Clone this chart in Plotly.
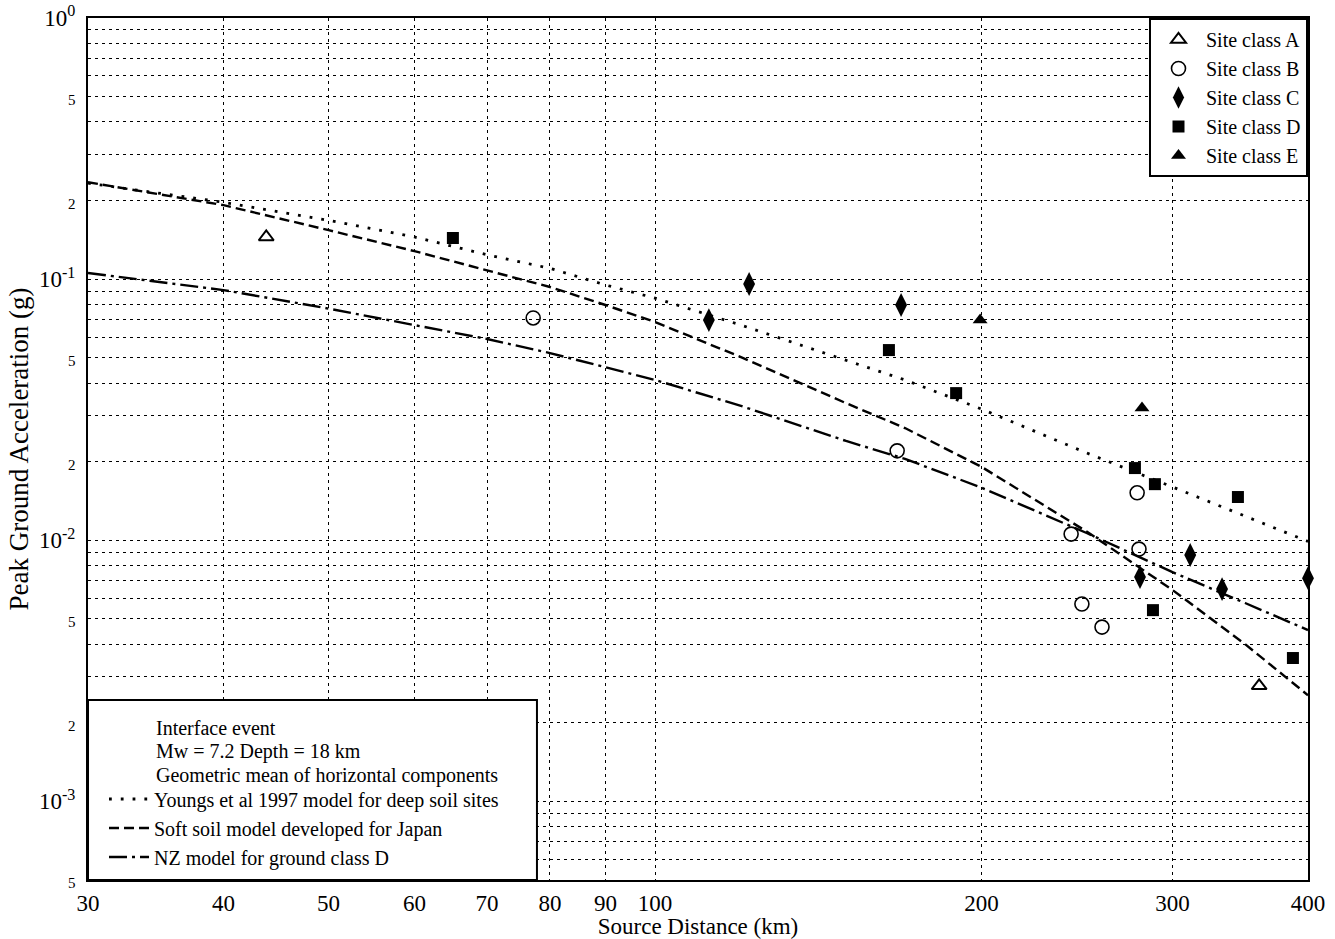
import plotly.graph_objects as go

# ---- data ----
model_distance = [30, 40, 50, 60, 70, 80, 90, 100, 120, 150, 170, 200, 250, 300, 350, 400]
youngs_1997 = [0.233, 0.197, 0.168, 0.145, 0.124, 0.110, 0.095, 0.0846, 0.0667, 0.049, 0.0411,
               0.0318, 0.0216, 0.016, 0.0124, 0.0099]
japan_soft_soil = [0.235, 0.192, 0.154, 0.128, 0.108, 0.0933, 0.0796, 0.0685, 0.0503, 0.0335,
                   0.0269, 0.0191, 0.0108, 0.00645, 0.0040, 0.00255]
nz_class_d = [0.1055, 0.0908, 0.0771, 0.0668, 0.059, 0.0521, 0.0461, 0.0411, 0.0327, 0.024,
              0.0205, 0.0159, 0.01066, 0.00755, 0.00575, 0.00453]

site_a_dist = [43.8, 360.6]
site_a_pga = [0.145, 0.00277]
site_b_dist = [77.2, 167.2, 278.3, 241.9, 279.4, 247.5, 258.3]
site_b_pga = [0.071, 0.022, 0.0152, 0.01056, 0.00925, 0.0057, 0.00465]
site_c_dist = [112.1, 122.1, 168.6, 311.5, 280.0, 333.3, 400.0]
site_c_pga = [0.0697, 0.0958, 0.0796, 0.00878, 0.00723, 0.0065, 0.00716]
site_d_dist = [65.1, 164.3, 189.5, 277.0, 289.0, 344.7, 287.8, 387.4]
site_d_pga = [0.1437, 0.0535, 0.0366, 0.0189, 0.0164, 0.01464, 0.0054, 0.00354]
site_e_dist = [199.4, 281.2]
site_e_pga = [0.0697, 0.0321]

x_tickvals = [30, 40, 50, 60, 70, 80, 90, 100, 200, 300, 400]
x_ticktext = ["30", "40", "50", "60", "70", "80", "90", "100", "200", "300", "400"]

y_tickvals = [1.0, 0.5, 0.2, 0.1, 0.05, 0.02, 0.01, 0.005, 0.002, 0.001, 0.0005]
y_ticktext = ["10<sup>0</sup>", "5", "2", "10<sup>-1</sup>", "5", "2", "10<sup>-2</sup>",
              "5", "2", "10<sup>-3</sup>", "5"]
y_grid_multipliers = [1, 2, 3, 4, 5, 6, 7, 8, 9]
y_grid_decades = [1e-4, 1e-3, 1e-2, 1e-1]

header_lines = ["Interface event", "Mw = 7.2 Depth = 18 km",
                "Geometric mean of horizontal components"]

SMALL = '<span style="font-size:15px">%s</span>'
y_ticktext = [t if t.startswith("10") else SMALL % t for t in y_ticktext]
y_minor_vals = [m * d for d in y_grid_decades for m in y_grid_multipliers
                if 5e-4 <= m * d <= 1.0]

FONT = "Liberation Serif, Times New Roman, serif"
GRID = dict(showgrid=True, gridcolor="black", gridwidth=1, griddash="3px,4px")

fig = go.Figure()

# model curves (legend2)
fig.add_trace(go.Scatter(x=model_distance, y=youngs_1997, mode="lines",
                         name="Youngs et al 1997 model for deep soil sites",
                         line=dict(color="black", width=2.8, dash="2.8px,9px"),
                         legend="legend2"))
fig.add_trace(go.Scatter(x=model_distance, y=japan_soft_soil, mode="lines",
                         name="Soft soil model developed for Japan",
                         line=dict(color="black", width=2.4, dash="10px,5px"),
                         legend="legend2"))
fig.add_trace(go.Scatter(x=model_distance, y=nz_class_d, mode="lines",
                         name="NZ model for ground class D",
                         line=dict(color="black", width=2.4, dash="18px,5px,3px,5px"),
                         legend="legend2"))

# site class data points (legend)
fig.add_trace(go.Scatter(x=site_a_dist, y=site_a_pga, mode="markers", name="Site class A",
                         marker=dict(symbol="triangle-up-open", size=13, color="black",
                                     line=dict(width=2, color="black")), cliponaxis=False))
fig.add_trace(go.Scatter(x=site_b_dist, y=site_b_pga, mode="markers", name="Site class B",
                         marker=dict(symbol="circle-open", size=14, color="black",
                                     line=dict(width=1.6, color="black")), cliponaxis=False))
fig.add_trace(go.Scatter(x=site_c_dist, y=site_c_pga, mode="markers", name="Site class C",
                         marker=dict(symbol="diamond-tall", size=17, color="black"),
                         cliponaxis=False))
fig.add_trace(go.Scatter(x=site_d_dist, y=site_d_pga, mode="markers", name="Site class D",
                         marker=dict(symbol="square", size=12, color="black"), cliponaxis=False))
fig.add_trace(go.Scatter(x=site_e_dist, y=site_e_pga, mode="markers", name="Site class E",
                         marker=dict(symbol="triangle-up", size=13, color="black"),
                         cliponaxis=False))

# box of the lower-left legend
fig.add_shape(type="rect", xref="paper", yref="paper", x0=0, x1=0.368, y0=0, y1=0.2088,
              fillcolor="white", line=dict(color="black", width=2), layer="above")

for i, txt in enumerate(header_lines):
    fig.add_annotation(text=txt, xref="paper", yref="paper", x=0.0545,
                       y=0.1763 - i * 0.0278, xanchor="left", yanchor="middle",
                       showarrow=False, font=dict(family=FONT, size=20, color="black"))

fig.update_layout(
    width=1335, height=939,
    margin=dict(l=88, r=27, t=18, b=59),
    paper_bgcolor="white", plot_bgcolor="white",
    font=dict(family=FONT, color="black"),
    showlegend=True,
    legend=dict(x=1, y=1, xanchor="right", yanchor="top", bgcolor="white",
                bordercolor="black", borderwidth=2,
                font=dict(family=FONT, size=20, color="black"),
                itemwidth=45, tracegroupgap=0),
    legend2=dict(x=0.0131, y=0.1166, xanchor="left", yanchor="top",
                 bgcolor="rgba(0,0,0,0)", borderwidth=0,
                 font=dict(family=FONT, size=20, color="black"),
                 itemwidth=40),
)

fig.update_xaxes(type="log", range=[1.4771213, 2.60206], automargin=False,
                 tickvals=x_tickvals, ticktext=x_ticktext, ticks="",
                 tickfont=dict(family=FONT, size=23, color="black"),
                 showline=True, linecolor="black", linewidth=2, mirror=True,
                 zeroline=False, ticklabelstandoff=1, **GRID,
                 title=dict(text="Source Distance (km)", standoff=4,
                            font=dict(family=FONT, size=23, color="black")))
fig.update_yaxes(type="log", range=[-3.30103, 0], automargin=False,
                 tickvals=y_tickvals, ticktext=y_ticktext, ticks="",
                 tickfont=dict(family=FONT, size=23, color="black"),
                 showline=True, linecolor="black", linewidth=2, mirror=True,
                 zeroline=False, ticklabelstandoff=6, **GRID,
                 minor=dict(tickvals=y_minor_vals, ticks="", **GRID),
                 title=dict(text="Peak Ground Acceleration (g)", standoff=3,
                            font=dict(family=FONT, size=27, color="black")))

fig.write_html("out.html")
